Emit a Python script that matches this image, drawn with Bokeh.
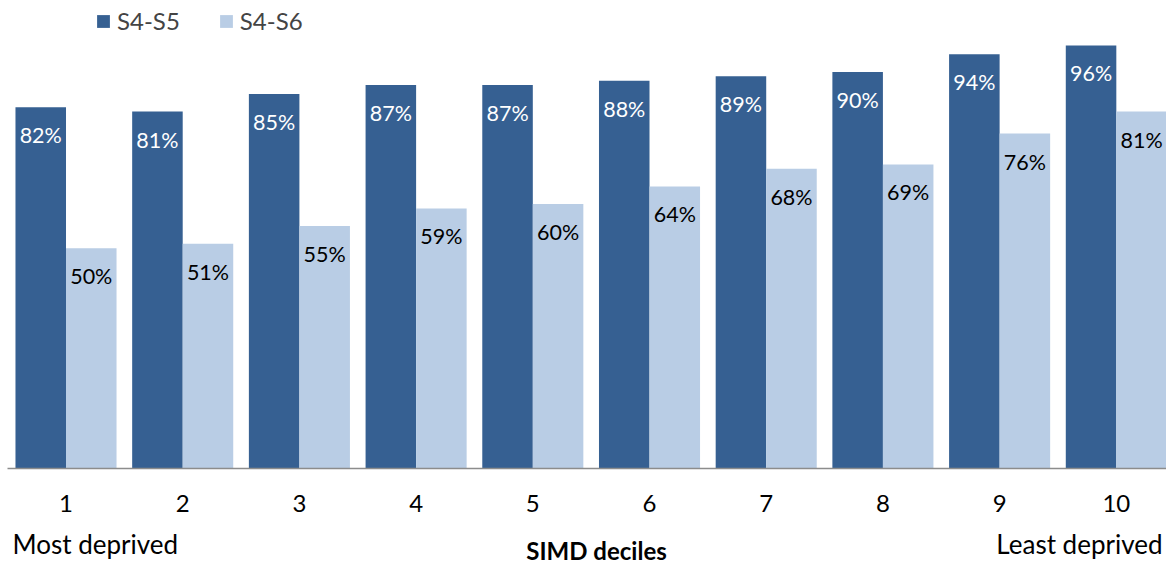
from bokeh.plotting import figure
from bokeh.models import ColumnDataSource, Range1d, Legend, LegendItem
from bokeh.core.properties import value
from bokeh.embed import file_html
from bokeh.resources import INLINE

categories = ["1", "2", "3", "4", "5", "6", "7", "8", "9", "10"]
s4_s5 = [82, 81, 85, 87, 87, 88, 89, 90, 94, 96]
s4_s6 = [50, 51, 55, 59, 60, 64, 68, 69, 76, 81]
series_names = ["S4-S5", "S4-S6"]
axis_title = "SIMD deciles"
left_note = "Most deprived"
right_note = "Least deprived"

DARK = "#366092"
LIGHT = "#B9CDE5"
FONT = "Lato"

xs = list(range(1, len(categories) + 1))
bw = 0.433
src1 = ColumnDataSource(dict(x=[x - bw / 2 for x in xs], top=s4_s5,
                             lab=[f"{v}%" for v in s4_s5]))
src2 = ColumnDataSource(dict(x=[x + bw / 2 for x in xs], top=s4_s6,
                             lab=[f"{v}%" for v in s4_s6]))
src_ticks = ColumnDataSource(dict(x=xs, y=[0] * len(xs), lab=categories))

x0, x1 = 0.4387, 10.43
p = figure(width=1166, height=564, output_backend="svg", toolbar_location=None,
           x_range=Range1d(x0, x1), y_range=Range1d(-21.79, 106.2),
           min_border_left=0, min_border_right=0, min_border_top=0, min_border_bottom=0)
p.outline_line_color = None
p.grid.visible = False
p.axis.visible = False
p.background_fill_color = "white"
p.border_fill_color = "white"

r1 = p.vbar(x="x", top="top", width=bw, bottom=0, source=src1, color=DARK, line_color=None)
r2 = p.vbar(x="x", top="top", width=bw, bottom=0, source=src2, color=LIGHT, line_color=None)

# category axis line
p.segment(x0=[x0 + 0.06], y0=[0], x1=[x1], y1=[0], line_color="#8c8c8c", line_width=1.5)

p.text(x="x", y="top", text="lab", source=src1, text_color="white",
       text_font=value(FONT), text_font_size="21.5px", text_align="center",
       text_baseline="middle", y_offset=28)
p.text(x="x", y="top", text="lab", source=src2, text_color="black",
       text_font=value(FONT), text_font_size="21.5px", text_align="center",
       text_baseline="middle", y_offset=28)

# category tick labels
p.text(x="x", y="y", text="lab", source=src_ticks, text_color="black",
       text_font=value(FONT), text_font_size="24px", text_align="center",
       text_baseline="middle", y_offset=35)

p.text(x=[x0 + 12 / 116.7], y=[0], text=[left_note], text_color="black",
       text_font=value(FONT), text_font_size="26px", text_align="left",
       text_baseline="middle", y_offset=76)
p.text(x=[x0 + 1162 / 116.7], y=[0], text=[right_note], text_color="black",
       text_font=value(FONT), text_font_size="26px", text_align="right",
       text_baseline="middle", y_offset=76)
p.text(x=[x0 + 596 / 116.7], y=[0], text=[axis_title], text_color="black",
       text_font=value(FONT), text_font_size="24px", text_font_style="bold",
       text_align="center", text_baseline="middle", y_offset=82)

legend = Legend(items=[LegendItem(label=series_names[0], renderers=[r1]),
                       LegendItem(label=series_names[1], renderers=[r2])],
                orientation="horizontal", location=(95, 529),
                border_line_color=None, background_fill_alpha=0,
                label_text_font=FONT, label_text_font_size="24px",
                glyph_width=16, glyph_height=16, spacing=38, padding=0, margin=0,
                label_standoff=6)
p.add_layout(legend)

open("out.html", "w").write(file_html(p, INLINE))
